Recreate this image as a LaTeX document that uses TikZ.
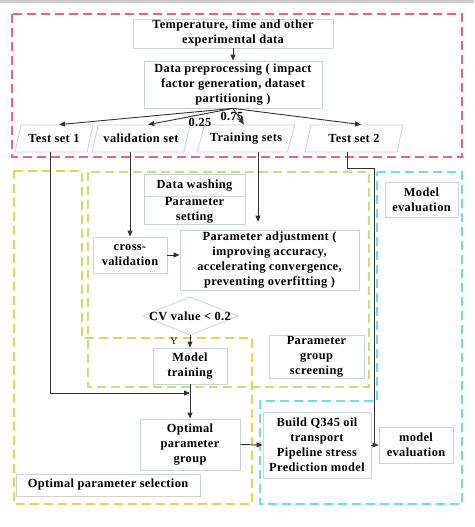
\documentclass[tikz,border=0pt]{standalone}
\usepackage{fontspec}
\setmainfont{Liberation Serif}
\newfontfamily\wideserif[LetterSpace=3]{Liberation Serif}
\usetikzlibrary{arrows.meta,shapes.geometric,calc}
\definecolor{pinkd}{RGB}{232,96,150}
\definecolor{yeld}{RGB}{232,212,74}
\definecolor{grnd}{RGB}{190,228,122}
\definecolor{cynd}{RGB}{110,224,220}
\definecolor{boxc}{RGB}{200,212,224}
\begin{document}
\begin{tikzpicture}[x=1pt,y=-1pt,
  txt/.style={font=\wideserif\bfseries\fontsize{12.4}{15}\selectfont, align=center},
  box/.style={txt, draw=boxc, line width=0.8pt, fill=white, inner sep=1pt},
  para/.style={box, trapezium, trapezium left angle=60, trapezium right angle=120,
     trapezium stretches body, minimum height=27pt},
  region/.style={line width=1.4pt, dash pattern=on 9pt off 5pt},
  arr/.style={-{Triangle[length=6pt,width=5pt]}, line width=0.9pt, draw=black!80},
  lin/.style={line width=0.9pt, draw=black!80}]
\useasboundingbox (0,0) rectangle (474,527);
\fill[white] (0,0) rectangle (474,527);
\fill[gray!40] (0,0) rectangle (474,3);

% regions
\draw[region,pinkd] (12,14) rectangle (462,157);
\draw[region,yeld] (14,171) -- (82,171) -- (82,338) -- (252,338) -- (252,504) -- (14,504) -- cycle;
\draw[region,grnd] (88,172) rectangle (369,387);
\draw[region,cynd] (377,172) -- (462,172) -- (462,504) -- (260,504) -- (260,401) -- (377,401) -- cycle;

% nodes
\node[box, minimum width=200pt, minimum height=29pt] (temp) at (233,33.5) {Temperature, time and other\\experimental data};
\node[box, minimum width=178pt, minimum height=47pt] (dp) at (233,84.5) {Data preprocessing ( impact\\factor generation, dataset\\partitioning )};
\node[para, minimum width=78pt] (ts1) at (54,138.5) {Test set 1};
\node[para, minimum width=98pt] (val) at (141,138.5) {validation set};
\node[para, minimum width=98pt] (tr) at (246,138.5) {Training sets};
\node[para, minimum width=98pt] (ts2) at (354,138.5) {Test set 2};
\node[txt] (l25) at (200,122) {0.25};
\node[txt] (l75) at (232,116) {0.75};

\node[box, minimum width=101pt, minimum height=23pt] (dw) at (194.5,185.5) {Data washing};
\node[box, minimum width=101pt, minimum height=27pt] (ps) at (194.5,210.5) {Parameter\\setting};
\node[box, minimum width=73pt, minimum height=35pt] (mev) at (421.5,199.5) {Model\\evaluation};
\node[box, minimum width=74pt, minimum height=36pt] (cv) at (130,255) {cross-\\validation};
\node[box, minimum width=179pt, minimum height=60pt] (pa) at (269.5,260) {Parameter adjustment (\\improving accuracy,\\accelerating convergence,\\preventing overfitting )};

\draw[draw=boxc, line width=0.8pt, fill=white] (143,316) -- (190,297) -- (238,316) -- (190,335) -- cycle;
\node[txt] (cvn) at (190,316) {CV value < 0.2};
\coordinate (cvb) at (190,335);
\node[font=\fontsize{10}{12}\selectfont] (ylab) at (174,341) {Y};

\node[box, minimum width=74pt, minimum height=36pt] (mt) at (190,366) {Model\\training};
\node[box, minimum width=95pt, minimum height=40pt] (pgs) at (316.5,357) {Parameter\\group\\screening};
\node[box, minimum width=100pt, minimum height=51pt] (opt) at (190,444.5) {Optimal\\parameter\\group};
\node[box, minimum width=108pt, minimum height=66pt] (bq) at (317,445) {Build Q345 oil\\transport\\Pipeline stress\\Prediction model};
\node[box, minimum width=74pt, minimum height=36pt] (me2) at (416,445) {model\\evaluation};
\node[box, minimum width=184pt, minimum height=22pt] (ops) at (108,485) {Optimal parameter selection};

% connectors
\draw[arr] (temp.south) -- (dp.north);
\draw[arr] (dp.south) -- ([xshift=2pt]ts1.top side);
\draw[arr] (dp.south) -- ([xshift=4pt]val.top side);
\draw[arr] (dp.south) -- ([xshift=-6pt]tr.top side);
\draw[arr] (dp.south) -- ([xshift=4pt]ts2.top side);

\draw[arr] (val.bottom side -| cv.north) -- (cv.north);
\draw[arr, shorten >=8pt] ([xshift=16pt]tr.bottom side) -- ([xshift=16pt]tr.bottom side |- pa.north);
\draw[arr] (cv.east) -- (pa.west |- cv.east);
\draw[arr] (cvb) -- (mt.north);
\coordinate (j1) at (190,393);
\draw[arr] (mt.south) -- (opt.north);
\draw[arr] (ts1.bottom side) |- (j1);
\draw[arr] (opt.east) -- (bq.west);
\coordinate (j2) at (374,445);
\draw[lin] ([xshift=-3pt]ts2.bottom side) -- ++(0,16) -| (j2);
\draw[arr] (bq.east) -- (me2.west);
\end{tikzpicture}
\end{document}
